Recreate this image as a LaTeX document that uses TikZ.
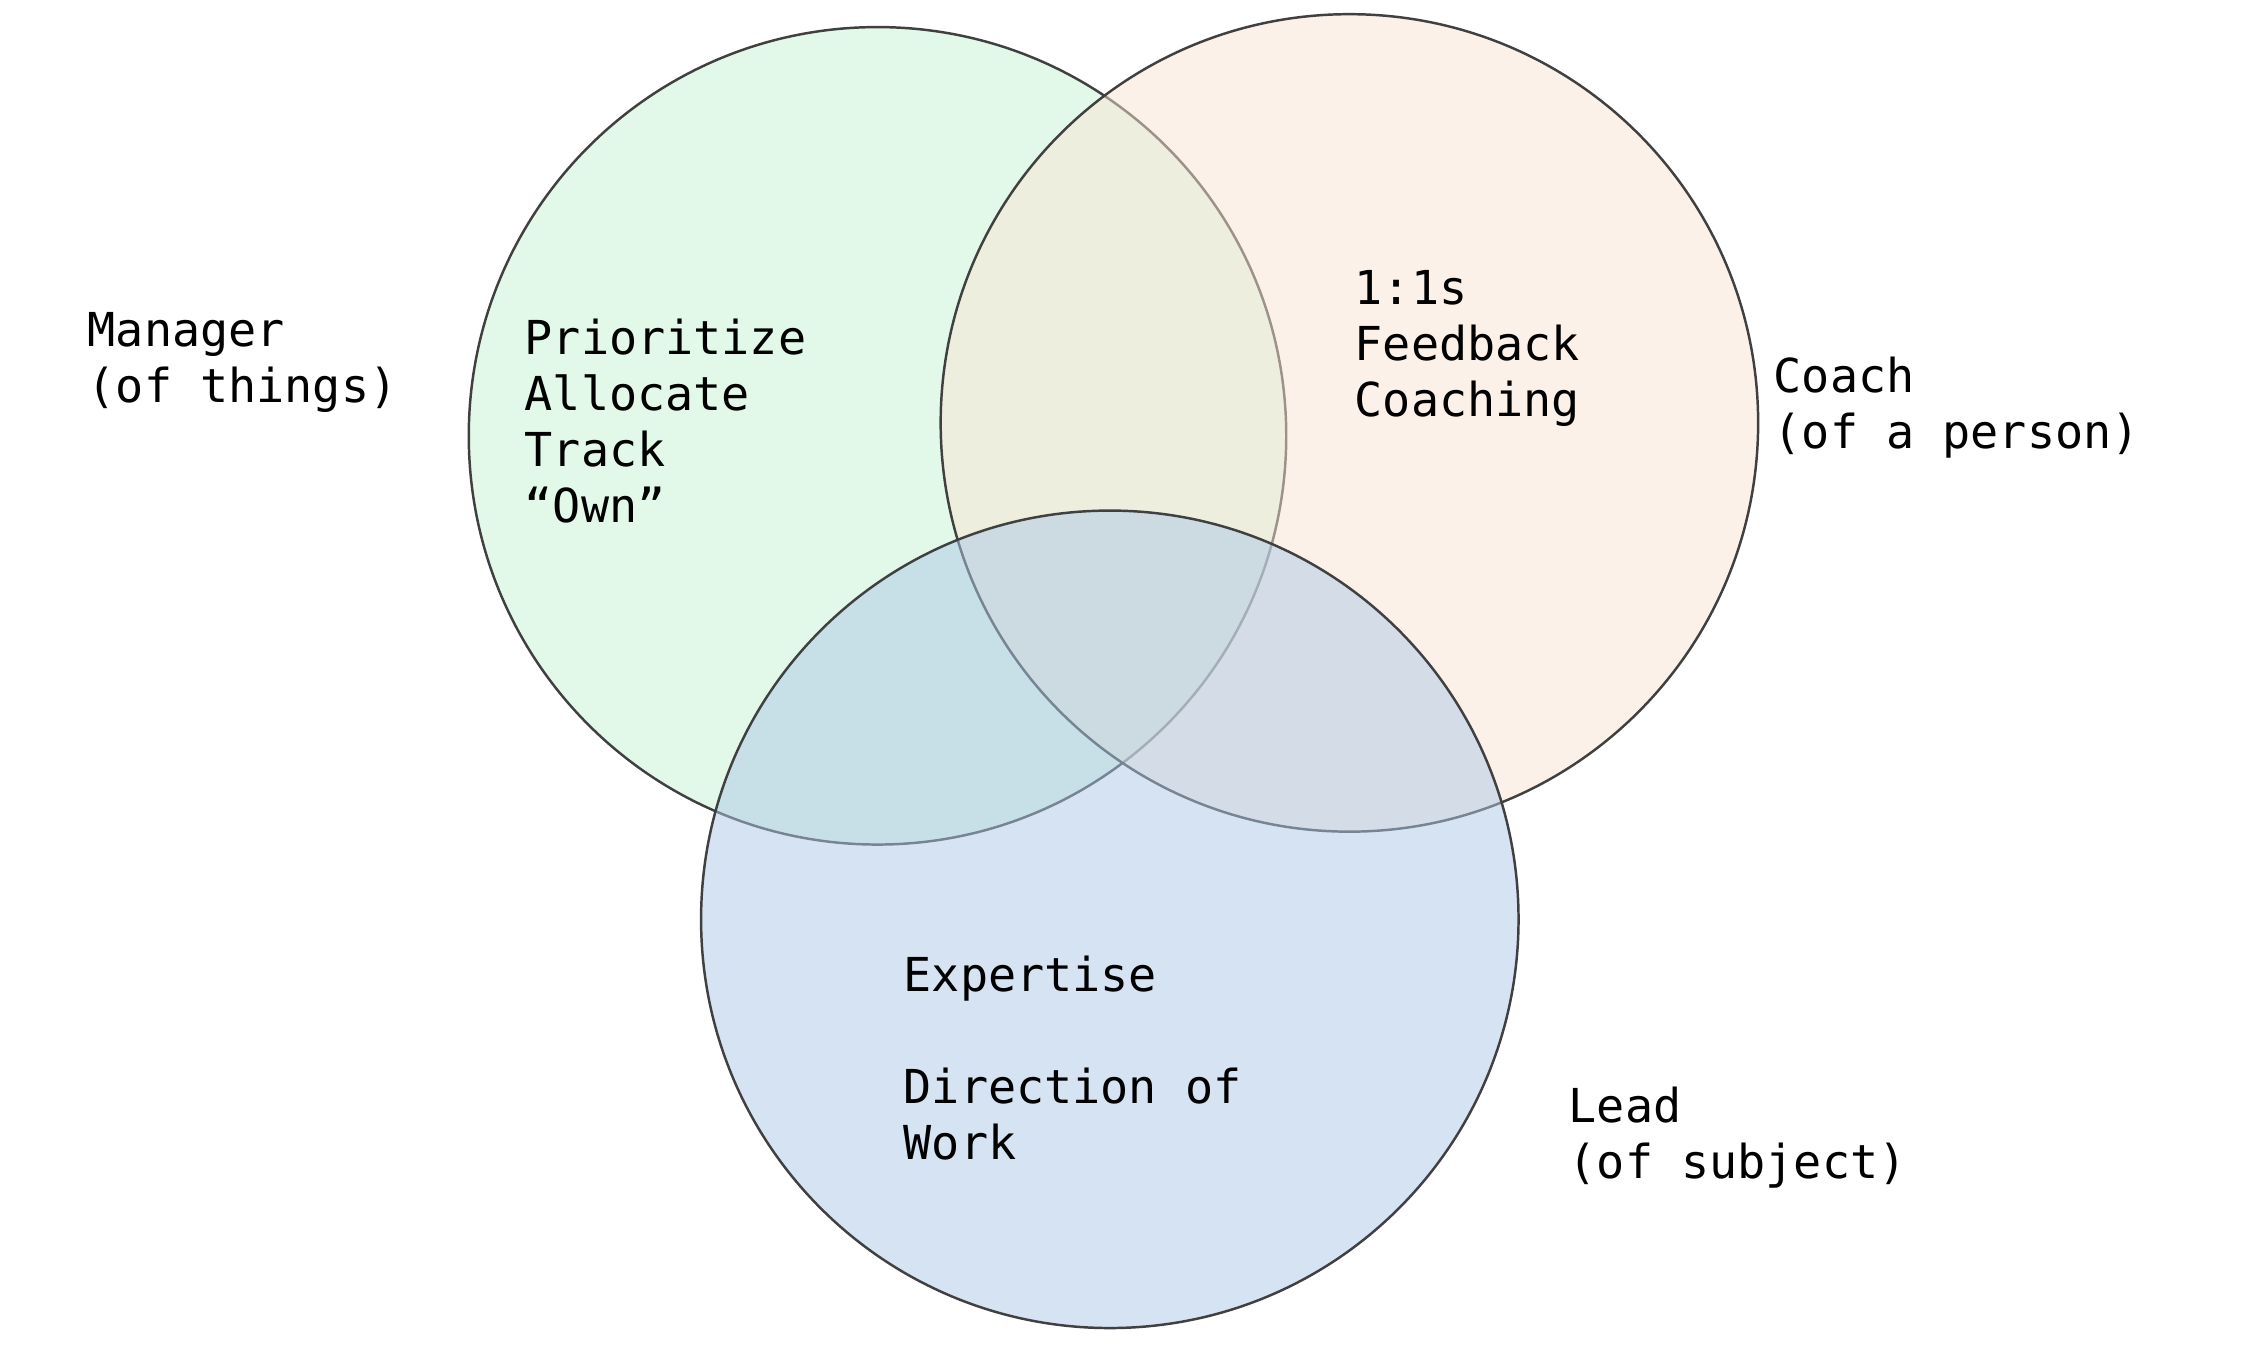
\documentclass[tikz,border=0pt]{standalone}
\usepackage{fontspec}
\setmonofont{DejaVu Sans Mono}
\definecolor{cgreen}{RGB}{199,245,213}
\definecolor{corange}{RGB}{249,229,211}
\definecolor{cblue}{RGB}{173,201,231}
\definecolor{cline}{RGB}{64,64,64}
\tikzset{
  venn/.style={draw=cline, line width=0.7pt, fill opacity=0.5, circle,
    minimum size=8.17cm, inner sep=0pt},
  lbl/.style={anchor=base west, inner sep=0pt, align=left,
    font=\ttfamily\fontsize{13.3}{15.9}\selectfont, text=black}
}
\begin{document}
\begin{tikzpicture}[x=0.01cm,y=-0.01cm]
\useasboundingbox (0,0) rectangle (2263,1350);
\fill[white] (0,0) rectangle (2263,1350);
\node[venn, fill=cgreen] (manager) at (877.5,435.8) {};
\node[venn, fill=corange] (coach) at (1349.4,422.9) {};
\node[venn, fill=cblue] (lead) at (1109.8,919.3) {};
\node[lbl] (mtasks) at (524,522) {Prioritize\\Allocate\\Track\\“Own”};
\node[lbl] (ctasks) at (1354,416) {1:1s\\Feedback\\Coaching};
\node[lbl] (ltasks) at (903,1159) {Expertise\\[15.9pt]Direction of\\Work};
\node[lbl] (mname) at (87,402) {Manager\\(of things)};
\node[lbl] (cname) at (1773,448) {Coach\\(of a person)};
\node[lbl] (lname) at (1568,1178) {Lead\\(of subject)};
\end{tikzpicture}
\end{document}
